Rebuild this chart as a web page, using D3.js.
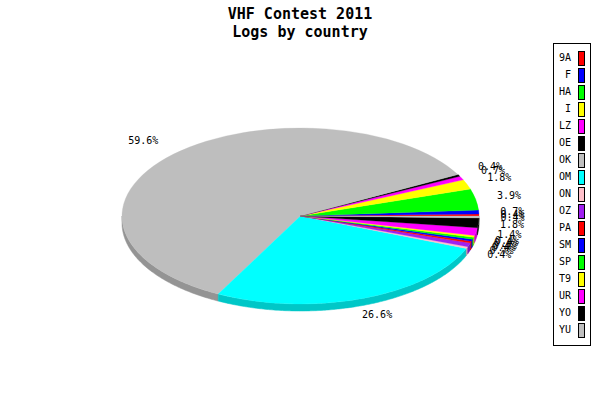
<!DOCTYPE html>
<html><head><meta charset="utf-8">
<script src="https://cdn.jsdelivr.net/npm/d3@7"></script>
<style>body{margin:0;background:#fff}svg{display:block}</style>
</head><body><svg id="c" width="600" height="400"></svg>
<script>
// ---- data ----
const countries = ["9A","F","HA","I","LZ","OE","OK","OM","ON","OZ","PA","SM","SP","T9","UR","YO","YU"];
const logs      = [1, 2, 11, 5, 2, 1, 168, 75, 1, 2, 1, 1, 1, 1, 4, 5, 1];
const sliceColors = ["#ff0000","#0000ff","#00ff00","#ffff00","#ff00ff","#000000","#bebebe","#00ffff","#ffc0cb","#a020f0",
                     "#ff0000","#0000ff","#00ff00","#ffff00","#ff00ff","#000000","#bebebe"];
const titleLines = ["VHF Contest 2011", "Logs by country"];

// ---- layout ----
const W = 600, H = 400;
const cx = 300.5, cy = 216, rx = 178.5, ry = 88, depth = 7;
const labRx = 200, labRy = 100;
const mono = "'DejaVu Sans Mono', 'Liberation Mono', monospace";

const svg = d3.select("#c");
svg.append("rect").attr("width", W).attr("height", H).attr("fill", "#fff");

const color = d3.scaleOrdinal().domain(countries).range(sliceColors);
const total = d3.sum(logs);
const data = countries.map((c, i) => ({country: c, value: logs[i]}));
const arcs = d3.pie().sort(null).value(d => d.value)(data); // angles: CCW from east

// ---- sides (front half only) ----
const PI = Math.PI;
const line = d3.line();
const gSide = svg.append("g");
arcs.forEach(a => {
  const t1 = Math.max(a.startAngle, PI), t2 = Math.min(a.endAngle, 2 * PI);
  if (t2 <= t1) return;
  const n = Math.max(2, Math.ceil((t2 - t1) / 0.01));
  const ts = d3.range(n + 1).map(k => t1 + (t2 - t1) * k / n);
  const top = ts.map(t => [cx + rx * Math.cos(t), cy - ry * Math.sin(t)]);
  const bot = ts.slice().reverse().map(t => [cx + rx * Math.cos(t), cy - ry * Math.sin(t) + depth]);
  const c = d3.rgb(color(a.data.country));
  const dark = d3.rgb(c.r * 0.78, c.g * 0.78, c.b * 0.78);
  gSide.append("path").attr("d", line(top.concat(bot)) + "Z")
    .attr("fill", dark).attr("stroke", dark).attr("stroke-width", 0.5);
});

// ---- top faces ----
const arcGen = d3.arc().innerRadius(0).outerRadius(rx)
  .startAngle(d => PI / 2 - d.endAngle).endAngle(d => PI / 2 - d.startAngle);
svg.append("g").attr("transform", `translate(${cx},${cy}) scale(1,${ry / rx})`)
  .selectAll("path").data(arcs).join("path")
  .attr("d", arcGen)
  .attr("fill", d => color(d.data.country))
  .attr("stroke", d => color(d.data.country)).attr("stroke-width", 0.4);

// ---- labels ----
const fmt = d3.format(".1f");
const gLab = svg.append("g").attr("font-family", mono).attr("font-size", 10).attr("fill", "#000");
arcs.forEach(a => {
  let t = (a.startAngle + a.endAngle) / 2;
  const ax = cx + labRx * Math.cos(t), ay = cy - labRy * Math.sin(t);
  let dx, dy;
  if (t >= 7 * PI / 4 || t <= PI / 4) dx = 0;
  else if (t <= 3 * PI / 4) dx = (t - PI / 4) * 2 / PI;
  else if (t <= 5 * PI / 4) dx = 1;
  else dx = 1 - (t - 5 * PI / 4) * 2 / PI;
  if (t >= 7 * PI / 4) dy = (t - 7 * PI / 4) * 2 / PI;
  else if (t <= PI / 4) dy = 0.5 + t * 2 / PI;
  else if (t <= 3 * PI / 4) dy = 1;
  else if (t <= 5 * PI / 4) dy = 1 - (t - 3 * PI / 4) * 2 / PI;
  else dy = 0;
  const txt = gLab.append("text").text(fmt(a.data.value / total * 100) + "%");
  const w = txt.node().getComputedTextLength();
  const h = 10;
  txt.attr("x", ax - dx * w).attr("y", ay - dy * h + 8.5);
});

// ---- title ----
svg.append("g").attr("font-family", mono).attr("font-size", 15).attr("font-weight", "bold")
  .attr("text-anchor", "middle")
  .selectAll("text").data(titleLines).join("text")
  .attr("x", 300).attr("y", (d, i) => 19 + i * 18).text(d => d);

// ---- legend ----
const band = d3.scaleBand().domain(countries).range([49.5, 49.5 + 17 * countries.length]);
const lg = svg.append("g");
lg.append("rect").attr("x", 553.5).attr("y", 43.5).attr("width", 37).attr("height", 302)
  .attr("fill", "#fff").attr("stroke", "#000");
const ent = lg.selectAll("g.e").data(countries).join("g").attr("class", "e");
ent.append("rect").attr("x", 578.5).attr("y", d => band(d) + 1.5).attr("width", 6).attr("height", 14)
  .attr("fill", d => color(d)).attr("stroke", "#000").attr("shape-rendering", "crispEdges");
ent.append("text").attr("x", 571).attr("y", d => band(d) + 11.5)
  .attr("text-anchor", "end").attr("font-family", mono).attr("font-size", 10).text(d => d);
</script>
</body></html>
